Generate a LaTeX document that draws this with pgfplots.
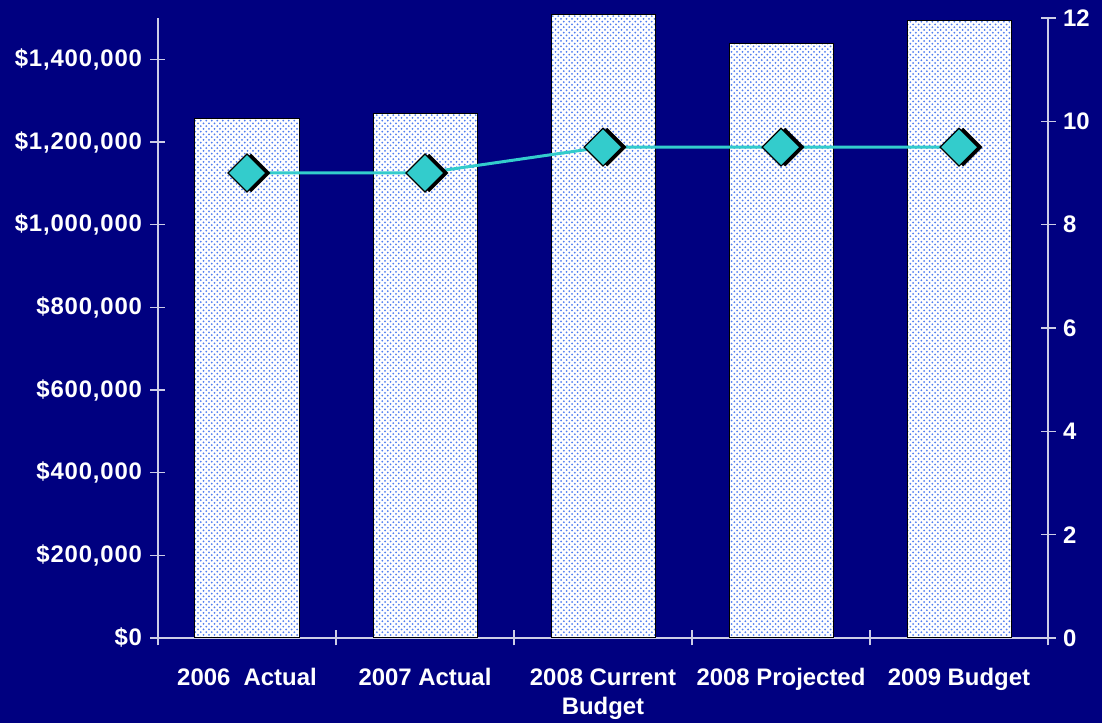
\documentclass[border=0pt]{standalone}
\usepackage{pgfplots}
\pgfplotsset{compat=1.18}
\usepackage{fontspec}
\setmainfont{Liberation Sans}
\usetikzlibrary{patterns}

\definecolor{bgnavy}{RGB}{0,0,128}
\definecolor{dotblue}{RGB}{80,125,240}
\definecolor{linecyan}{RGB}{51,204,204}
\definecolor{axisgray}{RGB}{205,205,230}

% staggered dot fill for the bars
\pgfdeclarepatternformonly{bardots}{\pgfqpoint{-1.2bp}{-1.2bp}}{\pgfqpoint{6.7bp}{6.7bp}}{\pgfqpoint{5.5bp}{5.5bp}}{%
  \pgfpathcircle{\pgfqpoint{0bp}{0bp}}{1bp}%
  \pgfpathcircle{\pgfqpoint{2.75bp}{2.75bp}}{1bp}%
  \pgfusepath{fill}}

\newcommand{\lbl}{\bfseries\fontsize{24}{29}\selectfont}

\pgfplotsset{
  budgetaxis/.style={
    at={(0,0)}, anchor=south west,
    scale only axis, width=890bp, height=620bp,
    xmin=-0.5, xmax=4.5,
    axis line style={axisgray, line width=1.2bp},
    tick style={axisgray, line width=1.2bp},
    tick align=center, major tick length=15bp,
    ticklabel style={text=white, font=\lbl},
    /pgf/number format/assume math mode=true,
    scaled y ticks=false,
  },
}

\begin{document}
\begin{tikzpicture}[x=1bp,y=1bp]
\fill[bgnavy] (-158,-85) rectangle (944,638);

% Budget amounts (bars, left axis)
\begin{axis}[budgetaxis,
  ymin=0, ymax=1500000,
  clip=false,
  axis x line*=bottom, axis y line*=left,
  ytick={0,200000,400000,600000,800000,1000000,1200000,1400000},
  yticklabels={{\$0},{\$200,000},{\$400,000},{\$600,000},{\$800,000},{\$1,000,000},{\$1,200,000},{\$1,400,000}},
  yticklabel style={font=\lbl\addfontfeatures{LetterSpace=3.5}, xshift=-5bp},
  xtick={-0.5,0.5,1.5,2.5,3.5,4.5},
  xticklabels={},
  extra x ticks={0,1,2,3,4},
  extra x tick labels={{2006\ \ Actual},{2007 Actual},{2008 Current\\Budget},{2008 Projected},{2009 Budget}},
  extra x tick style={major tick length=0pt, ticklabel style={align=center, yshift=-27bp}},
]
\addplot[ybar, bar width=104bp, fill=white, draw=black, line width=1bp,
  postaction={pattern=bardots, pattern color=dotblue}]
  coordinates {(0,1258000) (1,1270000) (2,1508000) (3,1438000) (4,1495000)};
\end{axis}

% Staff count (line, right axis)
\begin{axis}[budgetaxis,
  ymin=0, ymax=12,
  axis x line=none, axis y line*=right,
  ytick={0,2,4,6,8,10,12},
  yticklabel style={xshift=4bp},
]
\addplot[linecyan, line width=3bp, no marks]
  coordinates {(0,9) (1,9) (2,9.5) (3,9.5) (4,9.5)};
\addplot[only marks, mark=square*, mark size=13.4bp,
  mark options={rotate=45, fill=black, draw=black, xshift=3bp, yshift=-3bp}]
  coordinates {(0,9) (1,9) (2,9.5) (3,9.5) (4,9.5)};
\addplot[only marks, mark=square*, mark size=13.4bp,
  mark options={rotate=45, fill=linecyan, draw=black, line width=1.2bp}]
  coordinates {(0,9) (1,9) (2,9.5) (3,9.5) (4,9.5)};
\end{axis}
\end{tikzpicture}
\end{document}
